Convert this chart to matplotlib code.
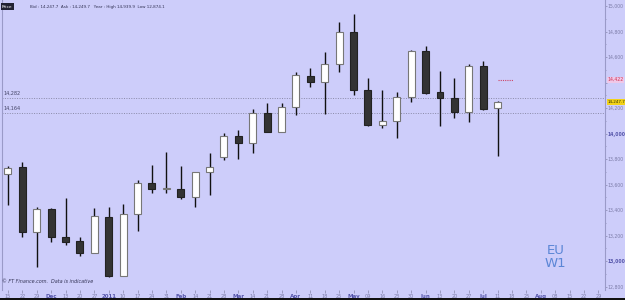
"""Weekly EU candlestick chart (FT style)."""

import matplotlib
matplotlib.use("Agg")
import matplotlib.pyplot as plt
from matplotlib.patches import Rectangle
from matplotlib.ticker import FixedLocator, MultipleLocator

# ── data ─────────────────────────────────────────────────────────────────────

opens = [13682, 13735, 13227, 13408, 13188, 13157, 13063, 13345, 12882, 13369,
         13612, 13565, 13565, 13502, 13698, 13816, 13980, 13925, 14161, 14012,
         14208, 14451, 14404, 14545, 14796, 14341, 14067, 14098, 14286, 14647,
         14325, 14278, 14169, 14529, 14200]
highs = [13745, 13775, 13424, 13416, 13494, 13188, 13416, 13424, 13447, 13635,
         13753, 13855, 13745, 13698, 13847, 14004, 14027, 14192, 14239, 14239,
         14482, 14514, 14639, 14875, 14937, 14435, 14341, 14325, 14655, 14686,
         14490, 14435, 14545, 14569, 14255]
lows = [13439, 13190, 12953, 13149, 13125, 13039, 13063, 12874, 12880, 13235,
        13533, 13533, 13486, 13424, 13518, 13792, 13800, 13847, 14012, 14012,
        14145, 14365, 14153, 14482, 14302, 14059, 14043, 13965, 14247, 14310,
        14059, 14122, 14090, 14184, 13824]
closes = [13732, 13230, 13408, 13188, 13149, 13063, 13353, 12882, 13369, 13612,
          13565, 13570, 13502, 13698, 13737, 13980, 13925, 14161, 14012, 14208,
          14459, 14404, 14545, 14796, 14341, 14067, 14098, 14286, 14647, 14318,
          14278, 14169, 14529, 14192, 14247.7]

week_labels = ["15", "22", "29", "Dec", "13", "20", "27", "2011", "10", "17",
               "24", "31", "Feb", "14", "21", "28", "Mar", "14", "21", "28",
               "Apr", "11", "18", "25", "May", "09", "16", "23", "30", "Jun",
               "13", "20", "27", "Jul", "11", "18", "25", "Aug", "08", "15",
               "22", "29"]
month_labels = {"Dec", "2011", "Feb", "Mar", "Apr", "May", "Jun", "Jul", "Aug"}

y_ticks = [12800, 13000, 13200, 13400, 13600, 13800, 14000, 14200, 14400,
           14600, 14800, 15000]
bold_ticks = {13000, 14000}
hidden_ticks = {14400}   # covered by the 14,422 flag

level_hi = 14282
level_lo = 14164
target = 14422
last_price = 14247.7

header = "Bid : 14,247.7  Ask : 14,249.7   Year : High 14,939.9  Low 12,874.1"
footer = "\u00a9 FT Finance.com.  Data is indicative"

# ── style ────────────────────────────────────────────────────────────────────

BG = "#cdcdfa"
TXT = "#7c7ca8"
plt.rcParams["font.family"] = ["DejaVu Sans"]

fig = plt.figure(figsize=(6.25, 3.0), dpi=100)
fig.patch.set_facecolor(BG)
ax = fig.add_axes([0.003, 0.033, 0.965, 0.967])
ax.set_facecolor(BG)

ax.set_xlim(-0.42, 41.46)
ax.set_ylim(12773, 15047)

# ── candles ──────────────────────────────────────────────────────────────────

w = 0.48
for i, (o, h, l, c) in enumerate(zip(opens, highs, lows, closes)):
    up = c >= o
    ax.vlines(i, l, h, color="#111111", lw=1.0, zorder=2)
    lo_b, hi_b = min(o, c), max(o, c)
    ax.add_patch(Rectangle((i - w / 2, lo_b), w, max(hi_b - lo_b, 8),
                           facecolor="white" if up else "#333333",
                           edgecolor="#777777" if up else "#222222",
                           lw=0.8, zorder=3))

# ── levels ───────────────────────────────────────────────────────────────────

for lvl in (level_hi, level_lo):
    ax.axhline(lvl, color="#8a8aa8", lw=0.7, ls=(0, (1, 1.5)), zorder=1)
    ax.text(0.002, lvl + 12, f"{lvl:,}", transform=ax.get_yaxis_transform(),
            fontsize=3.5, color="#444466", va="bottom", ha="left")

ax.hlines(target, 34.0, 35.1, color="#cc4466", lw=0.8, ls=(0, (1, 1)), zorder=2)

# ── axes ─────────────────────────────────────────────────────────────────────

for side in ("top", "bottom"):
    ax.spines[side].set_visible(False)
ax.spines["left"].set_color("#9a9ac8")
ax.spines["right"].set_color("#9a9ac8")
ax.spines["right"].set_linewidth(0.8)

ax.yaxis.tick_right()
ax.yaxis.set_major_locator(FixedLocator(y_ticks))
ax.yaxis.set_minor_locator(MultipleLocator(100))
ax.set_yticklabels(["" if v in hidden_ticks else f"{v:,}" for v in y_ticks])
ax.tick_params(axis="y", which="major", length=1.5, width=0.5, color="#8888aa",
               labelsize=3.3, labelcolor=TXT, pad=0.5)
ax.tick_params(axis="y", which="minor", length=1, width=0.5, color="#8888aa")
for lab, v in zip(ax.get_yticklabels(), y_ticks):
    if v in bold_ticks:
        lab.set_fontweight("bold")
        lab.set_color("#5555aa")

ax.set_xticks(range(len(week_labels)))
ax.set_xticklabels(week_labels)
ax.tick_params(axis="x", length=2, width=0.5, color="#8888aa", labelsize=3.6,
               labelcolor=TXT, pad=1)
for lab in ax.get_xticklabels():
    if lab.get_text() in month_labels:
        lab.set_fontweight("bold")
        lab.set_color("#5555aa")
        lab.set_fontsize(4)

# ── right-hand price flags ──────────────────────────────────────────────────

ax.text(1.004, target, "14,422", transform=ax.get_yaxis_transform(),
        fontsize=3.3, color="#cc3355", va="center", ha="left",
        bbox=dict(boxstyle="square,pad=0.15", fc="#f0c8e8", ec="none"))
ax.text(1.004, last_price, "14,247.7", transform=ax.get_yaxis_transform(),
        fontsize=3.0, color="#333300", va="center", ha="left",
        bbox=dict(boxstyle="square,pad=0.15", fc="#f2d21a", ec="none"))

# ── header / footer / tag ───────────────────────────────────────────────────

fig.text(0.003, 0.985, "Price", fontsize=3.2, color="white", va="top",
         ha="left", bbox=dict(boxstyle="square,pad=0.3", fc="#222233", ec="none"))
fig.text(0.048, 0.983, header, fontsize=3.0, color="#333355", va="top", ha="left")
fig.text(0.003, 0.052, footer, fontsize=3.5, color="#333355", va="bottom",
         ha="left", style="italic")
ax.text(0.918, 0.115, "EU\nW1", transform=ax.transAxes, fontsize=9.5,
        color="#5b86d6", ha="center", va="center", linespacing=1.0)

fig.add_artist(Rectangle((0, 0), 1, 0.008, transform=fig.transFigure,
                         facecolor="#111111", edgecolor="none"))

fig.savefig("out.png", dpi=100, facecolor=BG)
